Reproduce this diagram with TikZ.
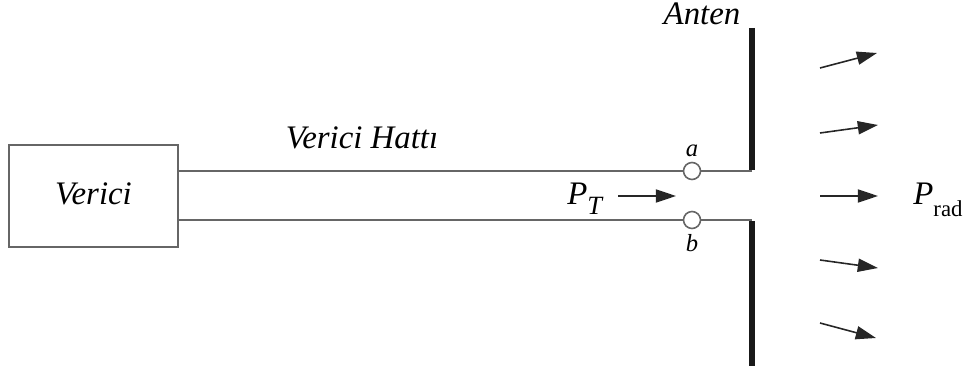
\documentclass[tikz,border=0pt]{standalone}
\usepackage{fontspec}
\setmainfont{Liberation Serif}
\usetikzlibrary{arrows.meta,positioning,calc}

\begin{document}
\begin{tikzpicture}[
  x=0.02cm, y=-0.02cm,
  every node/.style={font=\fontsize{18.7}{22}\selectfont\itshape, inner sep=0pt},
  txbox/.style={
    rectangle, draw=black!60, line width=0.9pt,
    minimum width=3.38cm, minimum height=2.04cm,
    text depth=0.25em
  },
  portcircle/.style={
    circle, draw=black!60, fill=white, line width=0.9pt,
    minimum size=0.34cm
  },
  portlabel/.style={font=\fontsize{14}{16}\selectfont\itshape, anchor=base},
  feedline/.style={draw=black!60, line width=0.9pt},
  antbar/.style={draw=black!90, line width=3.3pt},
  radarrow/.style={
    -{Triangle[length=11.5pt,width=7.5pt]}, black!85, line width=0.9pt
  },
]

\useasboundingbox (0,0) rectangle (973,371);

% --- Nodes ---
\node[txbox] (tx) at (93.5,196) {Verici};
\node[anchor=base] (line) at (362,149) {Verici Hattı};

\node[portcircle] (a) at (692,171) {};
\node[portcircle] (b) at (692,220) {};
\node[portlabel] (alab) at (692,157) {a};
\node[portlabel] (blab) at (692,252) {b};

\node[anchor=base] (ant) at (702,25) {Anten};

\node[anchor=base west] (pt) at (567,205)
  {P\raisebox{-0.28em}{\fontsize{15}{15}\selectfont T}};
\node[anchor=base west] (prad) at (913,205)
  {P\raisebox{-0.36em}{\fontsize{13}{13}\selectfont\upshape rad}};

% --- Antenna ---
\coordinate (feedA) at (752,171);
\coordinate (feedB) at (752,220);
\coordinate (antTop) at (752,28);
\coordinate (antBot) at (752,366);

% --- Transmission line ---
\draw[feedline] (tx.east |- a) -- (a.west);
\draw[feedline] (tx.east |- b) -- (b.west);
\draw[feedline] (a.east) -- (feedA);
\draw[feedline] (b.east) -- (feedB);

\draw[antbar] (antTop) -- ([yshift=0.8pt]feedA);
\draw[antbar] ([yshift=-0.8pt]feedB) -- (antBot);

% --- Power arrows ---
\coordinate (ptTail) at (618,196);
\coordinate (ptHead) at (676,196);
\draw[radarrow] (ptTail) -- (ptHead);

\coordinate (r1s) at (820,68);  \coordinate (r1e) at (877,53);
\coordinate (r2s) at (820,133); \coordinate (r2e) at (878,125);
\coordinate (r3s) at (820,196); \coordinate (r3e) at (878,196);
\coordinate (r4s) at (820,260); \coordinate (r4e) at (878,268);
\coordinate (r5s) at (820,323); \coordinate (r5e) at (876,338);

\draw[radarrow] (r1s) -- (r1e);
\draw[radarrow] (r2s) -- (r2e);
\draw[radarrow] (r3s) -- (r3e);
\draw[radarrow] (r4s) -- (r4e);
\draw[radarrow] (r5s) -- (r5e);

\end{tikzpicture}
\end{document}
